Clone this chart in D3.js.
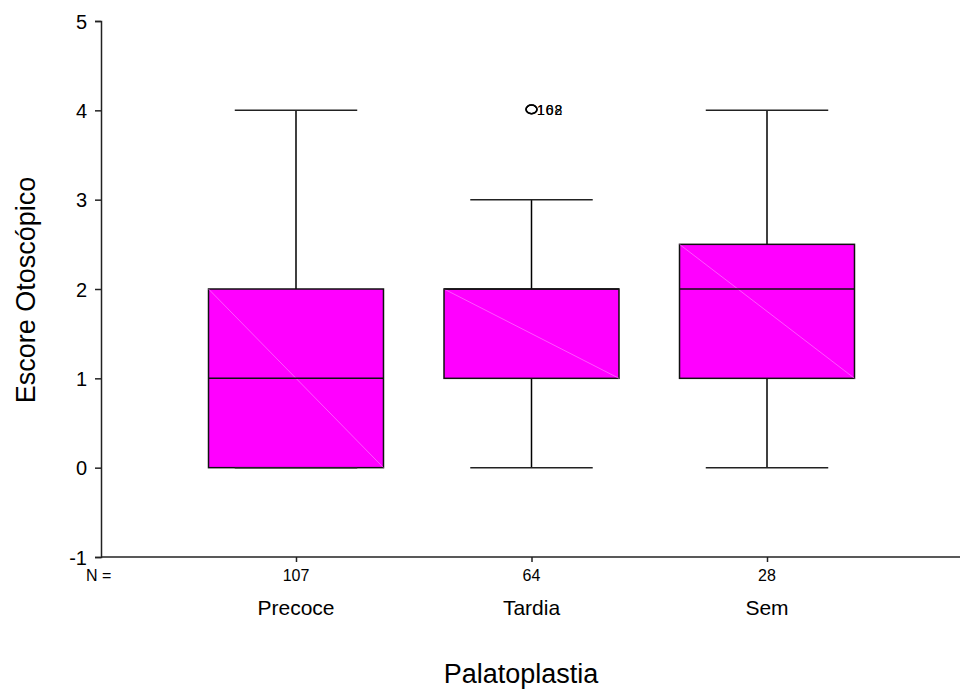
<!DOCTYPE html>
<html>
<head>
<meta charset="utf-8">
<script src="https://cdn.jsdelivr.net/npm/d3@7"></script>
<style>
  body { margin: 0; background: #fff; }
  text { font-family: Arial, "Liberation Sans", sans-serif; fill: #000; }
</style>
</head>
<body>
<div id="viz"></div>
<script>
// box plot data
var groups = ["Precoce", "Tardia", "Sem"];
var counts = [107, 64, 28];
var mins = [0, 0, 0];
var q1s = [0, 1, 1];
var medians = [1, 2, 2];
var q3s = [2, 2, 2.5];
var maxs = [4, 3, 4];
// outliers: [group, value, case label]
var outliers = [["Tardia", 4, "102"], ["Tardia", 4, "168"]];
var yTicks = [-1, 0, 1, 2, 3, 4, 5];

const width = 960;
const height = 691;

var svg = d3.select("#viz")
    .append("svg")
    .attr("width", width)
    .attr("height", height);

var y = d3.scaleLinear().domain([-1, 5]).range([557, 21]);
var x = d3.scalePoint().domain(groups).range([101, 962]).padding(0.828);
var step = x.step();
var boxW = step * 0.743;
var capW = step * 0.52;

var rows = groups.map(function (g, i) {
    return { name: g, n: counts[i], min: mins[i], q1: q1s[i], med: medians[i], q3: q3s[i], max: maxs[i] };
});

// axes
var yAxis = svg.append("g")
    .attr("transform", "translate(101,0)")
    .call(d3.axisLeft(y).tickValues(yTicks).tickSize(6).tickPadding(8)
        .tickFormat(function (d) { return String(d); }));
yAxis.select(".domain").attr("stroke", "#222").attr("stroke-width", 1.5);
yAxis.selectAll(".tick line").attr("stroke", "#222").attr("stroke-width", 1.5);
yAxis.selectAll(".tick text")
    .attr("font-size", 20).style("font-size", "20px")
    .attr("dy", "0.36em").attr("fill", "#000");

var xAxis = svg.append("g")
    .attr("transform", "translate(0,557)")
    .call(d3.axisBottom(x).tickSize(5).tickFormat(""));
xAxis.select(".domain").attr("d", "M101,0H960").attr("stroke", "#222").attr("stroke-width", 1.5);
xAxis.selectAll(".tick line").attr("stroke", "#222").attr("stroke-width", 1.5);

// boxes
var box = svg.append("g").selectAll("g")
    .data(rows)
    .enter().append("g");

box.append("line")
    .attr("x1", function (d) { return x(d.name); })
    .attr("x2", function (d) { return x(d.name); })
    .attr("y1", function (d) { return y(d.max); })
    .attr("y2", function (d) { return y(d.min); })
    .attr("stroke", "#000").attr("stroke-width", 1.5);

box.append("rect")
    .attr("x", function (d) { return x(d.name) - boxW / 2; })
    .attr("y", function (d) { return y(d.q3); })
    .attr("width", boxW)
    .attr("height", function (d) { return y(d.q1) - y(d.q3); })
    .attr("fill", "#ff00ff")
    .attr("stroke", "#111").attr("stroke-width", 1.5);

// faint diagonal seen inside each box
box.append("line")
    .attr("x1", function (d) { return x(d.name) - boxW / 2; })
    .attr("y1", function (d) { return y(d.q3); })
    .attr("x2", function (d) { return x(d.name) + boxW / 2; })
    .attr("y2", function (d) { return y(d.q1); })
    .attr("stroke", "#ff8cff").attr("stroke-width", 0.6);

box.append("line")
    .attr("x1", function (d) { return x(d.name) - boxW / 2; })
    .attr("x2", function (d) { return x(d.name) + boxW / 2; })
    .attr("y1", function (d) { return y(d.med); })
    .attr("y2", function (d) { return y(d.med); })
    .attr("stroke", "#111").attr("stroke-width", 1.5);

["max", "min"].forEach(function (k) {
    box.append("line")
        .attr("x1", function (d) { return x(d.name) - capW / 2; })
        .attr("x2", function (d) { return x(d.name) + capW / 2; })
        .attr("y1", function (d) { return y(d[k]); })
        .attr("y2", function (d) { return y(d[k]); })
        .attr("stroke", "#222").attr("stroke-width", 1.5);
});

// outliers
var out = svg.append("g").selectAll("g")
    .data(outliers)
    .enter().append("g");
out.append("ellipse")
    .attr("cx", function (d) { return x(d[0]); })
    .attr("cy", function (d) { return y(d[1]) - 1; })
    .attr("rx", 5.5).attr("ry", 4.3)
    .attr("fill", "none").attr("stroke", "#000").attr("stroke-width", 1.5);
out.append("text")
    .attr("x", function (d) { return x(d[0]) + 5.5; })
    .attr("y", function (d) { return y(d[1]) + 4.5; })
    .style("font-size", "14px")
    .style("letter-spacing", "1px")
    .text(function (d) { return d[2]; });

// N row
svg.append("text")
    .attr("x", 86).attr("y", 581)
    .style("font-size", "16px")
    .text("N =");
svg.append("g").selectAll("text")
    .data(rows)
    .enter().append("text")
    .attr("text-anchor", "middle")
    .attr("x", function (d) { return x(d.name); })
    .attr("y", 581)
    .style("font-size", "16px")
    .text(function (d) { return d.n; });

// category labels
svg.append("g").selectAll("text")
    .data(rows)
    .enter().append("text")
    .attr("text-anchor", "middle")
    .attr("x", function (d) { return x(d.name); })
    .attr("y", 615)
    .style("font-size", "21px")
    .text(function (d) { return d.name; });

// titles
svg.append("text")
    .attr("text-anchor", "middle")
    .attr("x", 521).attr("y", 683)
    .style("font-size", "27px")
    .text("Palatoplastia");

svg.append("text")
    .attr("text-anchor", "middle")
    .attr("transform", "translate(35,290) rotate(-90)")
    .style("font-size", "27px")
    .text("Escore Otoscópico");
</script>
</body>
</html>
